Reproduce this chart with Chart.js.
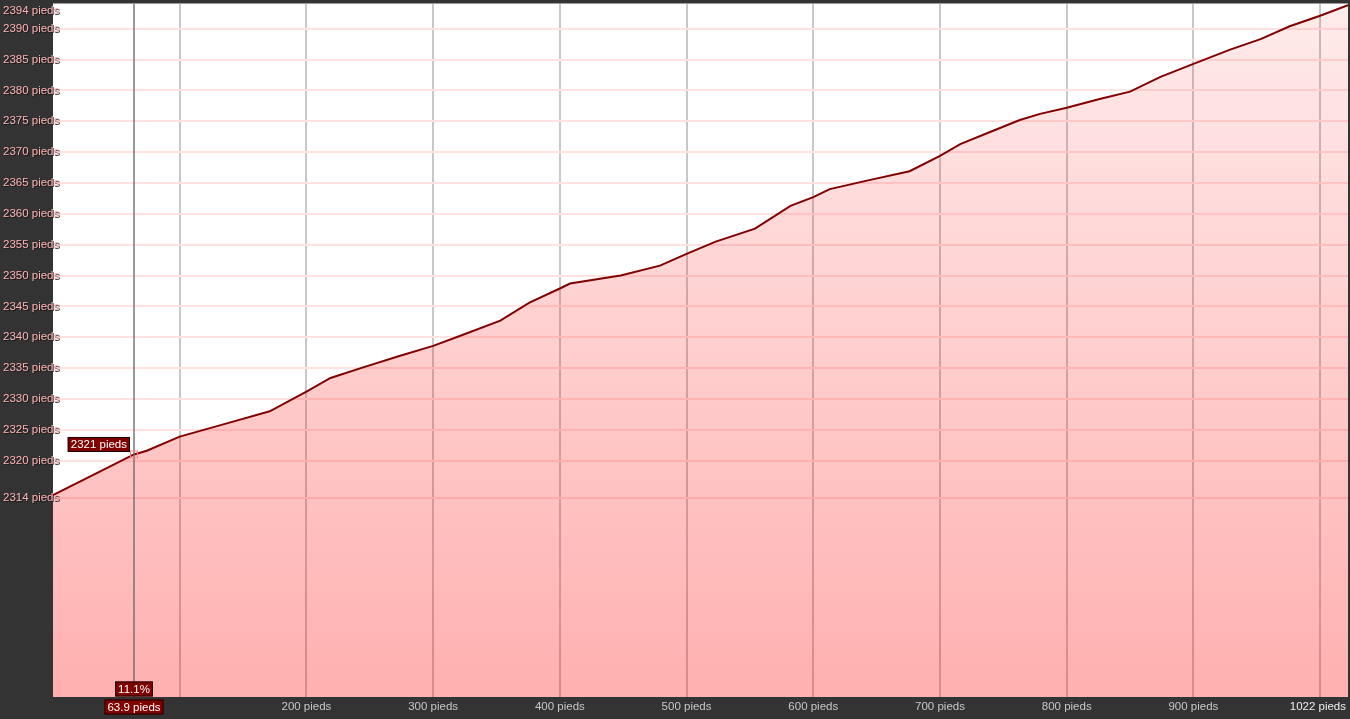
<!DOCTYPE html>
<html>
<head>
<meta charset="utf-8">
<script src="https://cdn.jsdelivr.net/npm/chart.js@4.4.1/dist/chart.umd.min.js"></script>
<style>
  html, body { margin: 0; padding: 0; background: #333333; }
  #wrap { width: 1350px; height: 719px; }
</style>
</head>
<body>
<div id="wrap"><canvas id="profile"></canvas></div>
<script>
// Distance along the route (pieds) and altitude (pieds)
const distances = [0, 63.9, 74, 100, 140, 171, 200, 219, 246, 274, 300, 321, 353, 376, 400, 408,
  448, 479, 500, 523, 554, 582, 600, 613, 645, 676, 700, 716, 740, 763, 779, 800, 826, 850,
  874, 900, 929, 953, 976, 1000, 1022];
const altitudes = [2314.4, 2321, 2321.6, 2323.9, 2326.2, 2328.0, 2331.2, 2333.4, 2335.2, 2337.0,
  2338.6, 2340.2, 2342.7, 2345.6, 2347.9, 2348.7, 2350.0, 2351.6, 2353.5, 2355.5, 2357.6,
  2361.3, 2362.7, 2364.0, 2365.5, 2366.9, 2369.4, 2371.3, 2373.3, 2375.2, 2376.2, 2377.2,
  2378.6, 2379.8, 2382.2, 2384.3, 2386.6, 2388.3, 2390.4, 2392.1, 2393.8];

const yTicks = [2314, 2320, 2325, 2330, 2335, 2340, 2345, 2350, 2355, 2360, 2365, 2370,
  2375, 2380, 2385, 2390, 2394];
const xTicks = [100, 200, 300, 400, 500, 600, 700, 800, 900, 1000];
const xLabels = [200, 300, 400, 500, 600, 700, 800, 900];

// cursor readout
const cursorDist = 63.9;
const cursorAlt = 2321;
const cursorPct = '11.1%';

const FONT = '11.5px "Liberation Sans", Arial, sans-serif';

function labelBox(ctx, text, x, y, align) {
  ctx.font = FONT;
  const w = ctx.measureText(text).width + 6;
  const h = 15;
  let left = x - w / 2;
  if (align === 'right') left = x - w;
  ctx.fillStyle = '#800000';
  ctx.fillRect(left, y - h / 2, w, h);
  ctx.strokeStyle = '#1a0000';
  ctx.lineWidth = 1;
  ctx.strokeRect(left + 0.5, y - h / 2 + 0.5, w - 1, h - 1);
  ctx.fillStyle = '#ffffff';
  ctx.textAlign = 'center';
  ctx.textBaseline = 'middle';
  ctx.fillText(text, left + w / 2, y + 0.5);
}

const backdrop = {
  id: 'backdrop',
  beforeDraw(chart) {
    const { ctx, chartArea: a } = chart;
    ctx.save();
    ctx.fillStyle = '#333333';
    ctx.fillRect(0, 0, chart.width, chart.height);
    ctx.fillStyle = '#ffffff';
    ctx.fillRect(a.left, a.top, a.right - a.left, a.bottom - a.top);
    // thin light rule along the top edge
    ctx.fillStyle = '#9a9a9a';
    ctx.fillRect(a.left, a.top - 1, a.right - a.left, 1);
    ctx.restore();
  },
  afterDraw(chart) {
    const { ctx, chartArea: a } = chart;
    const xs = chart.scales.x, ys = chart.scales.y;
    ctx.save();
    ctx.font = FONT;

    // y labels, drawn over the plot edge like the original
    ctx.textAlign = 'left';
    ctx.textBaseline = 'middle';
    yTicks.forEach(v => {
      const py = Math.max(ys.getPixelForValue(v), a.top + 7);
      ctx.fillStyle = '#1a1a1a';
      ctx.fillText(v + ' pieds', 4, py + 1);
      ctx.fillStyle = '#ffb4b4';
      ctx.fillText(v + ' pieds', 3, py);
    });

    // x labels
    ctx.textAlign = 'center';
    ctx.fillStyle = '#c8c8c8';
    const ly = a.bottom + 10;
    xLabels.forEach(v => ctx.fillText(v + ' pieds', xs.getPixelForValue(v), ly));
    ctx.textAlign = 'right';
    ctx.fillStyle = '#eeeeee';
    ctx.fillText(distances[distances.length - 1] + ' pieds', a.right - 2, ly);

    // cursor
    const cx = Math.round(xs.getPixelForValue(cursorDist));
    const cy = ys.getPixelForValue(cursorAlt);
    ctx.strokeStyle = 'rgba(110,110,110,0.7)';
    ctx.lineWidth = 2;
    ctx.beginPath();
    ctx.moveTo(cx, a.top);
    ctx.lineTo(cx, a.bottom);
    ctx.stroke();
    ctx.strokeStyle = '#ff8080';
    ctx.lineWidth = 1;
    ctx.strokeRect(cx - 3.5, cy - 3.5, 7, 7);

    labelBox(ctx, cursorAlt + ' pieds', cx - 4, cy - 10, 'right');
    labelBox(ctx, cursorPct, cx, a.bottom - 8);
    labelBox(ctx, cursorDist + ' pieds', cx, a.bottom + 10);
    ctx.restore();
  }
};

const ctx = document.getElementById('profile').getContext('2d');
new Chart(ctx, {
  type: 'line',
  data: {
    datasets: [{
      data: distances.map((d, i) => ({ x: d, y: altitudes[i] })),
      borderColor: '#800000',
      borderWidth: 2,
      pointRadius: 0,
      tension: 0,
      fill: 'start',
      backgroundColor: function(context) {
        const area = context.chart.chartArea;
        if (!area) return 'rgba(255,0,0,0.2)';
        const g = context.chart.ctx.createLinearGradient(0, area.top, 0, area.bottom);
        g.addColorStop(0, 'rgba(255,0,0,0.08)');
        g.addColorStop(1, 'rgba(255,0,0,0.31)');
        return g;
      }
    }]
  },
  options: {
    responsive: true,
    maintainAspectRatio: false,
    animation: false,
    layout: { padding: { top: 4, right: 2, left: 0, bottom: 0 } },
    plugins: { legend: { display: false }, tooltip: { enabled: false } },
    scales: {
      x: {
        type: 'linear',
        min: 0,
        max: 1022,
        afterBuildTicks: s => { s.ticks = xTicks.map(v => ({ value: v })); },
        afterFit: s => { s.height = 22; },
        ticks: { display: false },
        grid: { color: '#c8c8c8', lineWidth: 2, drawTicks: false },
        border: { display: false }
      },
      y: {
        min: 2281.7,
        max: 2394,
        afterBuildTicks: s => { s.ticks = yTicks.slice(0, -1).map(v => ({ value: v })); },
        afterFit: s => { s.width = 53; },
        ticks: { display: false },
        grid: { color: '#ffe2e2', lineWidth: 2, drawTicks: false },
        border: { display: false }
      }
    }
  },
  plugins: [backdrop]
});
</script>
</body>
</html>
